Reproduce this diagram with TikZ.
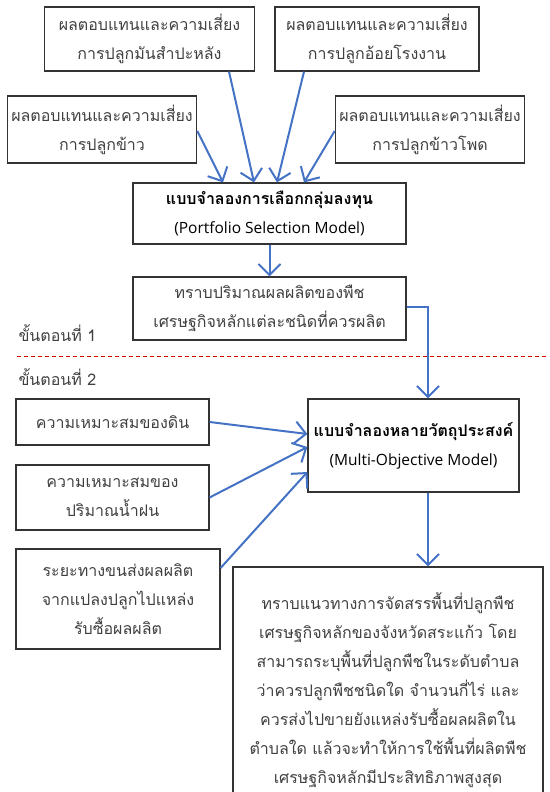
\documentclass[tikz,border=0pt]{standalone}
\usepackage{fontspec}
\setmainfont[Script=Thai]{Loma}
\newfontfamily\latinfont{Open Sans}
\usetikzlibrary{arrows.meta,positioning}
\definecolor{flowblue}{RGB}{68,114,196}
\definecolor{boxtext}{RGB}{64,64,64}
\tikzset{
      itembox/.style={
        draw=black!80,
        line width=1.2pt,
        text=boxtext,
        align=center,
        inner sep=4pt,
        font=\fontsize{16}{29}\selectfont
      },
      modelbox/.style={
        itembox,
        text=black,
        font=\fontsize{16}{29}\selectfont\bfseries
      },
      flowarrow/.style={
        -{Straight Barb[length=11pt,width=22pt]},
        line width=2pt,
        color=flowblue
      }
    }
\begin{document}
\begin{tikzpicture}[x=1pt,y=-1pt]
    \useasboundingbox (0,0) rectangle (549,792);
    \node[itembox, minimum width=210pt, minimum height=64pt] (cassava) at (149.5,39) {ผลตอบแทนและความเสี่ยง\\การปลูกมันสำปะหลัง};
    \node[itembox, minimum width=204pt, minimum height=64pt] (sugarcane) at (377,39) {ผลตอบแทนและความเสี่ยง\\การปลูกอ้อยโรงงาน};
    \node[itembox, minimum width=182pt, minimum height=67pt] (rice) at (102,129.5) {ผลตอบแทนและความเสี่ยง\\การปลูกข้าว};
    \node[itembox, minimum width=182pt, minimum height=67pt] (maize) at (430,129.5) {ผลตอบแทนและความเสี่ยง\\การปลูกข้าวโพด};
    \node[modelbox, minimum width=273pt, minimum height=61pt] (portfolio) at (269.5,213.5) {แบบจำลองการเลือกกลุ่มลงทุน\\{\latinfont\mdseries\fontsize{15.5}{29}\selectfont (Portfolio Selection Model)}};
    \node[itembox, minimum width=273pt, minimum height=63pt] (yield) at (269.5,308.5) {ทราบปริมาณผลผลิตของพืช\\เศรษฐกิจหลักแต่ละชนิดที่ควรผลิต};
    \node[text=boxtext, font=\fontsize{16}{29}\selectfont, anchor=west] (step1) at (15,333) {ขั้นตอนที่ 1};
    \node[text=boxtext, font=\fontsize{16}{29}\selectfont, anchor=west] (step2) at (15,377) {ขั้นตอนที่ 2};
    \draw[red!85!black, dashed, line width=0.9pt, dash pattern=on 4pt off 3pt] (17,356) -- (549,356);
    \node[modelbox, minimum width=211pt, minimum height=93pt] (multi) at (413.5,445.5) {แบบจำลองหลายวัตถุประสงค์\\{\latinfont\mdseries\fontsize{15.5}{29}\selectfont (Multi-Objective Model)}};
    \node[itembox, minimum width=193pt, minimum height=46pt] (soil) at (112.5,422) {ความเหมาะสมของดิน};
    \node[itembox, minimum width=193pt, minimum height=65pt] (rain) at (112.5,497.5) {ความเหมาะสมของ\\ปริมาณน้ำฝน};
    \node[itembox, minimum width=204pt, minimum height=100pt] (distance) at (118,599) {ระยะทางขนส่งผลผลิต\\จากแปลงปลูกไปแหล่ง\\รับซื้อผลผลิต};
    \node[itembox, minimum width=310pt, minimum height=246pt] (result) at (388,690) {ทราบแนวทางการจัดสรรพื้นที่ปลูกพืช\\เศรษฐกิจหลักของจังหวัดสระแก้ว โดย\\สามารถระบุพื้นที่ปลูกพืชในระดับตำบล\\ว่าควรปลูกพืชชนิดใด จำนวนกี่ไร่ และ\\ควรส่งไปขายยังแหล่งรับซื้อผลผลิตใน\\ตำบลใด แล้วจะทำให้การใช้พื้นที่ผลิตพืช\\เศรษฐกิจหลักมีประสิทธิภาพสูงสุด};
    \draw[flowarrow] ([xshift=79.5pt]cassava.south) -- ([xshift=-15.5pt]portfolio.north);
    \draw[flowarrow] ([xshift=-73pt]sugarcane.south) -- ([xshift=7.5pt]portfolio.north);
    \draw[flowarrow] ([yshift=-1.5pt]rice.east) -- ([xshift=-46.5pt]portfolio.north);
    \draw[flowarrow] ([yshift=-1.5pt]maize.west) -- ([xshift=34.5pt]portfolio.north);
    \draw[flowarrow] (portfolio.south) -- (yield.north);
    \draw[flowarrow] ([yshift=1.5pt]yield.east) -| ([xshift=14.5pt]multi.north);
    \draw[flowarrow] (soil.east) -- ([yshift=11.5pt]multi.west);
    \draw[flowarrow] (rain.east) -- ([yshift=-1.5pt]multi.west);
    \draw[flowarrow] ([yshift=31pt]distance.east) -- ([yshift=-26.5pt]multi.west);
    \draw[flowarrow] ([xshift=14.5pt]multi.south) -- ([xshift=40pt]result.north);
    \end{tikzpicture}
\end{document}
